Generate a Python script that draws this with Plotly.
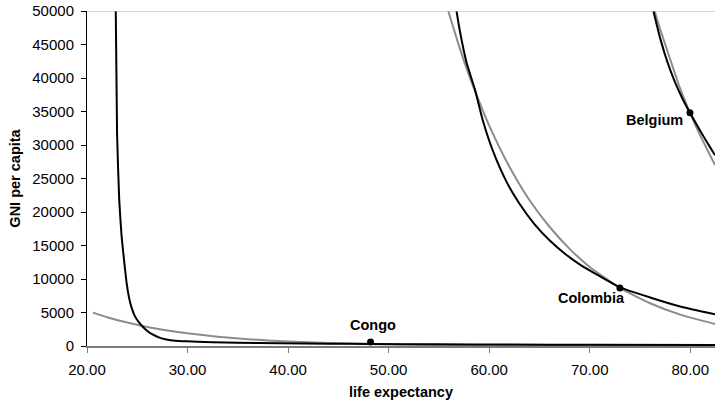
import plotly.graph_objects as go

# Country points
countries = ["Congo", "Colombia", "Belgium"]
life_exp = [48.2, 73.0, 79.97]
gni = [600, 8665, 34810]

# Black curves
congo_black_x = [22.86, 22.99, 23.2, 23.42, 23.58, 23.75, 23.95, 24.17, 24.42, 24.75, 25.15, 25.57, 26.0, 26.57,
                 27.2, 27.9, 28.8, 29.9, 31.0, 32.5, 35.0, 39.2, 44.0, 48.2, 55.0, 62.0, 70.0, 82.46]
congo_black_y = [50000, 31740, 22000, 16790, 14330, 11900, 9300, 7300, 5800, 4500, 3550, 2840, 2250, 1680,
                 1250, 980, 800, 700, 620, 550, 480, 400, 340, 300, 250, 215, 190, 160]

colombia_black_x = [56.75, 57.1, 57.75, 58.58, 59.4, 60.4, 61.73, 63.0, 64.5, 66.0, 67.5, 69.0, 71.0, 73.0, 76.0, 79.0, 82.46]
colombia_black_y = [50000, 46900, 42300, 38300, 33500, 29000, 24500, 21270, 18200, 15780, 13815, 12190, 10413, 8750, 7250, 5906, 4740]

belgium_black_x = [76.33, 77.03, 77.73, 78.43, 79.23, 79.97, 81.2, 82.46]
belgium_black_y = [50000, 45800, 42370, 39570, 36900, 34810, 31550, 28460]

# Grey curves
congo_grey_x = [20.6, 22.0, 24.0, 26.0, 28.0, 30.0, 33.0, 36.0, 40.0, 44.0, 48.2, 55.0, 62.0, 70.0, 82.46]
congo_grey_y = [4980, 4300, 3500, 2840, 2330, 1890, 1390, 1020, 675, 450, 290, 140, 70, 30, 8]

colombia_grey_x = [55.93, 57.0, 58.0, 59.0, 60.0, 62.0, 64.0, 66.0, 68.0, 70.0, 73.0, 76.0, 79.0, 82.46]
colombia_grey_y = [50000, 44800, 40400, 36500, 32900, 26800, 21800, 17800, 14500, 11800, 8680, 6380, 4690, 3290]

belgium_grey_x = [76.45, 77.0, 78.0, 79.0, 79.97, 81.0, 82.46]
belgium_grey_y = [50000, 47300, 42800, 38400, 34810, 31400, 27000]

x_ticks = [20, 30, 40, 50, 60, 70, 80]
y_ticks = [0, 5000, 10000, 15000, 20000, 25000, 30000, 35000, 40000, 45000, 50000]

FONT = "Liberation Sans, Arial, sans-serif"
GREY = "#8c8c8c"
BLACK = "#000000"

fig = go.Figure()

for xs, ys in [(congo_grey_x, congo_grey_y), (colombia_grey_x, colombia_grey_y), (belgium_grey_x, belgium_grey_y)]:
    fig.add_trace(go.Scatter(x=xs, y=ys, mode="lines",
                             line=dict(color=GREY, width=2, shape="spline", smoothing=0.5),
                             hoverinfo="skip", showlegend=False))
for xs, ys in [(congo_black_x, congo_black_y), (colombia_black_x, colombia_black_y), (belgium_black_x, belgium_black_y)]:
    fig.add_trace(go.Scatter(x=xs, y=ys, mode="lines",
                             line=dict(color=BLACK, width=2, shape="spline", smoothing=0.5),
                             hoverinfo="skip", showlegend=False))

fig.add_trace(go.Scatter(x=life_exp, y=gni, mode="markers",
                         marker=dict(color=BLACK, size=7),
                         showlegend=False, cliponaxis=False))

label_offsets = {"Congo": dict(xanchor="center", yanchor="middle", xshift=2, yshift=17),
                 "Colombia": dict(xanchor="center", yanchor="middle", xshift=-28, yshift=-10),
                 "Belgium": dict(xanchor="right", yanchor="middle", xshift=-5, yshift=-7)}
for name, lx, ly in zip(countries, life_exp, gni):
    fig.add_annotation(x=lx, y=ly, text="<b>%s</b>" % name, showarrow=False,
                       font=dict(family=FONT, size=14.5, color=BLACK),
                       **label_offsets[name])

fig.add_shape(type="line", xref="paper", yref="y", x0=0, x1=1, y0=50000, y1=50000,
              line=dict(color="#b0b0b0", width=1.2))

fig.update_layout(
    width=715, height=400,
    margin=dict(l=87, r=0, t=11, b=54, autoexpand=False),
    paper_bgcolor="white", plot_bgcolor="white",
    font=dict(family=FONT, size=15, color=BLACK),
    showlegend=False,
    hovermode=False,
    xaxis=dict(range=[20, 82.46], tickvals=x_ticks, tickformat=".2f", automargin=False,
               showgrid=False, zeroline=False,
               showline=True, linecolor="#7a7a7a", linewidth=2,
               ticks="outside", ticklen=5, tickcolor="#7a7a7a", tickwidth=1,
               ticklabelstandoff=4,
               tickfont=dict(family=FONT, size=15, color=BLACK),
               title=dict(text="<b>life expectancy</b>", font=dict(family=FONT, size=14.5), standoff=14)),
    yaxis=dict(range=[0, 50000], tickvals=y_ticks, tickformat="d", automargin=False,
               showgrid=False, zeroline=False,
               showline=True, linecolor=BLACK, linewidth=1,
               ticks="outside", ticklen=5, tickcolor=BLACK, tickwidth=1,
               ticklabelstandoff=4,
               tickfont=dict(family=FONT, size=15, color=BLACK),
               title=dict(text="<b>GNI per capita</b>", font=dict(family=FONT, size=14.5), standoff=8)),
)

fig.write_html("out.html",
               config={"displayModeBar": False, "staticPlot": True},
               post_script="document.body.style.margin='0';document.body.style.overflow='hidden';")
